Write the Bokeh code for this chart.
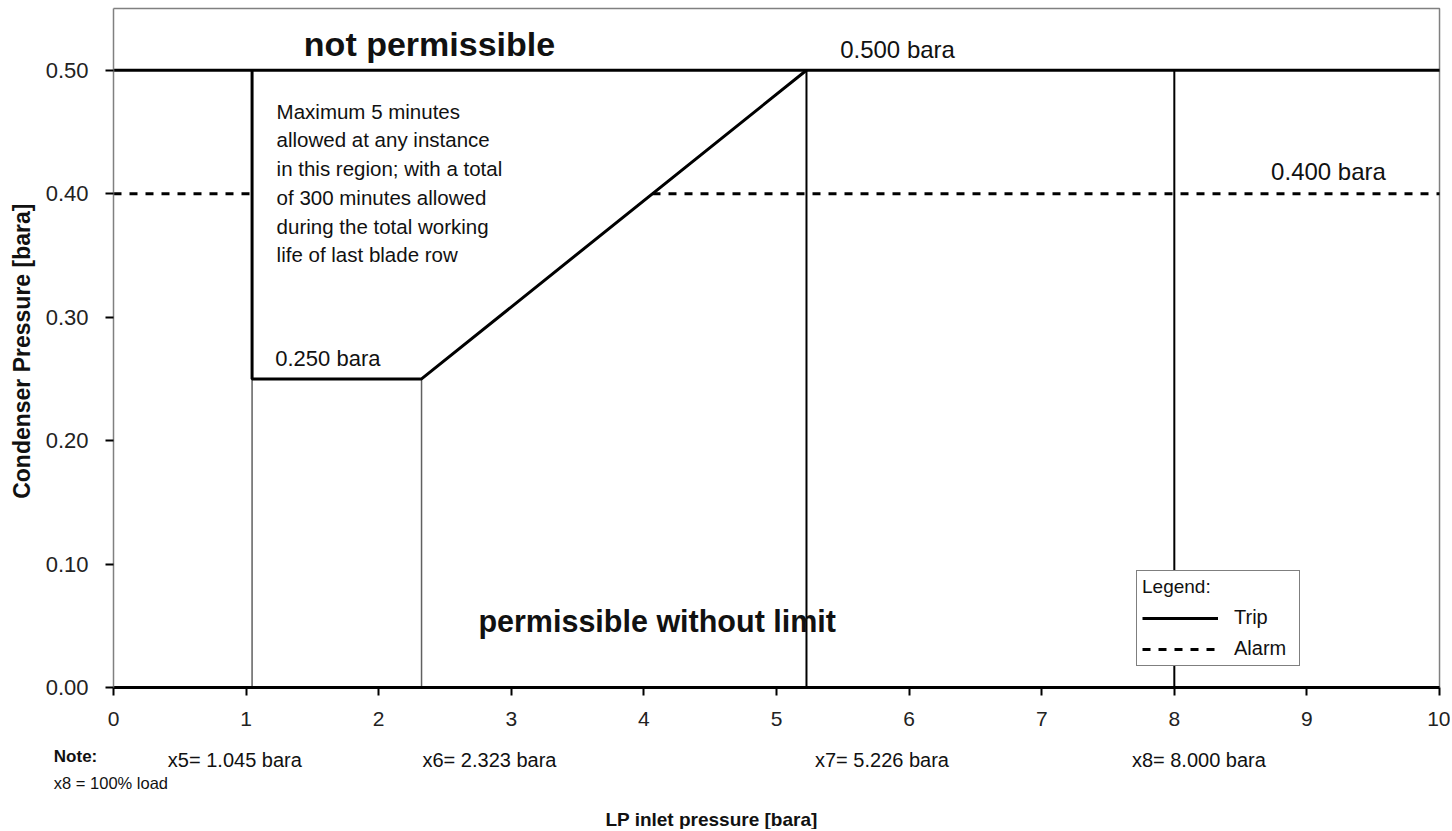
from bokeh.plotting import figure
from bokeh.models import Range1d, Label, Legend, LegendItem, FixedTicker, NumeralTickFormatter
from bokeh.embed import file_html
from bokeh.resources import INLINE

# ---------------- data ----------------
boundary_names = ["x5", "x6", "x7", "x8"]
boundary_x = [1.045, 2.323, 5.226, 8.000]
trip_high = 0.500
trip_low = 0.250
alarm_level = 0.400
x_ticks = [0, 1, 2, 3, 4, 5, 6, 7, 8, 9, 10]
y_ticks = [0.0, 0.1, 0.2, 0.3, 0.4, 0.5]
x_axis_span = (0, 10)
y_axis_span = (0, 0.55)

x5, x6, x7, x8 = boundary_x
trip_x = [x5, x5, x6, x7]
trip_y = [trip_high, trip_low, trip_low, trip_high]
x_alarm_cross = x6 + (alarm_level - trip_low) / (trip_high - trip_low) * (x7 - x6)

FONT = "Liberation Sans"

# the frame spans the whole canvas; axes are pinned at the origin
p = figure(width=1450, height=829,
           x_range=Range1d(-0.8522, 10.0828), y_range=Range1d(-0.115, 0.5565),
           output_backend="svg", toolbar_location=None,
           min_border_left=0, min_border_right=0, min_border_top=0, min_border_bottom=0)
p.xgrid.visible = False
p.ygrid.visible = False
p.outline_line_color = None
p.background_fill_color = "white"
p.border_fill_color = "white"

# x axis
p.xaxis.fixed_location = 0
p.xaxis.bounds = x_axis_span
p.xaxis.ticker = FixedTicker(ticks=x_ticks)
p.xaxis.axis_line_color = "black"
p.xaxis.axis_line_width = 3
p.xaxis.major_tick_line_color = "black"
p.xaxis.major_tick_line_width = 2
p.xaxis.major_tick_out = 8
p.xaxis.major_tick_in = 0
p.xaxis.minor_tick_line_color = None
p.xaxis.major_label_standoff = 16
p.xaxis.major_label_text_font = FONT
p.xaxis.major_label_text_font_size = "21px"
p.xaxis.major_label_text_color = "#222222"

# y axis
p.yaxis.fixed_location = 0
p.yaxis.bounds = y_axis_span
p.yaxis.ticker = FixedTicker(ticks=y_ticks)
p.yaxis.formatter = NumeralTickFormatter(format="0.00")
p.yaxis.axis_line_color = "#808080"
p.yaxis.axis_line_width = 1.5
p.yaxis.major_tick_line_color = "black"
p.yaxis.major_tick_line_width = 2
p.yaxis.major_tick_out = 8
p.yaxis.major_tick_in = 0
p.yaxis.minor_tick_line_color = None
p.yaxis.major_label_standoff = 17
p.yaxis.major_label_text_font = FONT
p.yaxis.major_label_text_font_size = "22px"
p.yaxis.major_label_text_color = "#222222"
p.yaxis.axis_label = "Condenser  Pressure [bara]"
p.yaxis.axis_label_text_font = FONT
p.yaxis.axis_label_text_font_style = "bold"
p.yaxis.axis_label_text_font_size = "23px"
p.yaxis.axis_label_text_color = "#111111"
p.yaxis.axis_label_standoff = 8

# chart box (top and right edges)
p.line(x=[x_axis_span[0], x_axis_span[1], x_axis_span[1]],
       y=[y_axis_span[1], y_axis_span[1], y_axis_span[0]],
       line_color="#808080", line_width=1.5)

# thin gray verticals below the low trip level
p.segment(x0=[x5, x6], y0=[0, 0], x1=[x5, x6], y1=[trip_low, trip_low],
          line_color="#606060", line_width=1.5)
# full-height verticals
p.segment(x0=[x7, x8], y0=[0, 0], x1=[x7, x8], y1=[trip_high, trip_high],
          line_color="black", line_width=2)
# top trip line
p.line(x=list(x_axis_span), y=[trip_high, trip_high], line_color="black", line_width=3)
# trip boundary
r_trip = p.line(x=trip_x, y=trip_y, line_color="black", line_width=3)
# alarm line
r_alarm = p.segment(x0=[x_axis_span[0], x_alarm_cross], y0=[alarm_level, alarm_level],
                    x1=[x5, x_axis_span[1]], y1=[alarm_level, alarm_level],
                    line_color="black", line_width=3, line_dash="8 8")

def lab(x, y, text, size, bold=False, align="left", baseline="middle", **kw):
    l = Label(x=x, y=y, text=text, text_font=FONT, text_font_size=size,
              text_font_style="bold" if bold else "normal", text_align=align,
              text_baseline=baseline, text_color="#111111", **kw)
    p.add_layout(l)
    return l

lab(2.383, 0.521, "not permissible", "34px", bold=True, align="center")
lab(4.10, 0.0535, "permissible without limit", "30.5px", bold=True, align="center")
lab(5.48, 0.517, f"{trip_high:.3f} bara", "24px")
lab(8.73, 0.418, f"{alarm_level:.3f} bara", "24px")
lab(1.22, 0.2665, f"{trip_low:.3f} bara", "22px")
lab(1.23, 0.4763,
    "Maximum 5 minutes\nallowed at any instance\nin this region; with a total\n"
    "of 300 minutes allowed\nduring the total working\nlife of last blade row",
    "20.5px", baseline="top", text_line_height=1.25)

# bottom annotations
bottom_label_x = [0.41, 2.33, 5.29, 7.68]
for name, val, lx in zip(boundary_names, boundary_x, bottom_label_x):
    lab(lx, -0.059, f"{name}= {val:.3f} bara", "20px")
lab(-0.45, -0.0555, "Note:", "17px", bold=True)
lab(-0.45, -0.0775, "x8 = 100% load", "16.5px")
lab(4.51, -0.107, "LP inlet pressure [bara]", "19px", bold=True, align="center")

legend = Legend(items=[LegendItem(label="Trip", renderers=[r_trip]),
                       LegendItem(label="Alarm", renderers=[r_alarm])],
                title="Legend:", location=(1136, 163))
legend.title_text_font = FONT
legend.title_text_font_style = "normal"
legend.title_text_font_size = "19px"
legend.title_text_color = "#111111"
legend.title_standoff = 8
legend.label_text_font = FONT
legend.label_text_font_size = "20px"
legend.label_text_color = "#111111"
legend.glyph_width = 76
legend.glyph_height = 22
legend.label_height = 22
legend.label_width = 60
legend.label_standoff = 16
legend.spacing = 8
legend.padding = 5
legend.margin = 0
legend.border_line_color = "black"
legend.border_line_width = 1.5
legend.background_fill_alpha = 1
p.add_layout(legend, "center")

open("out.html", "w").write(file_html(p, INLINE))
